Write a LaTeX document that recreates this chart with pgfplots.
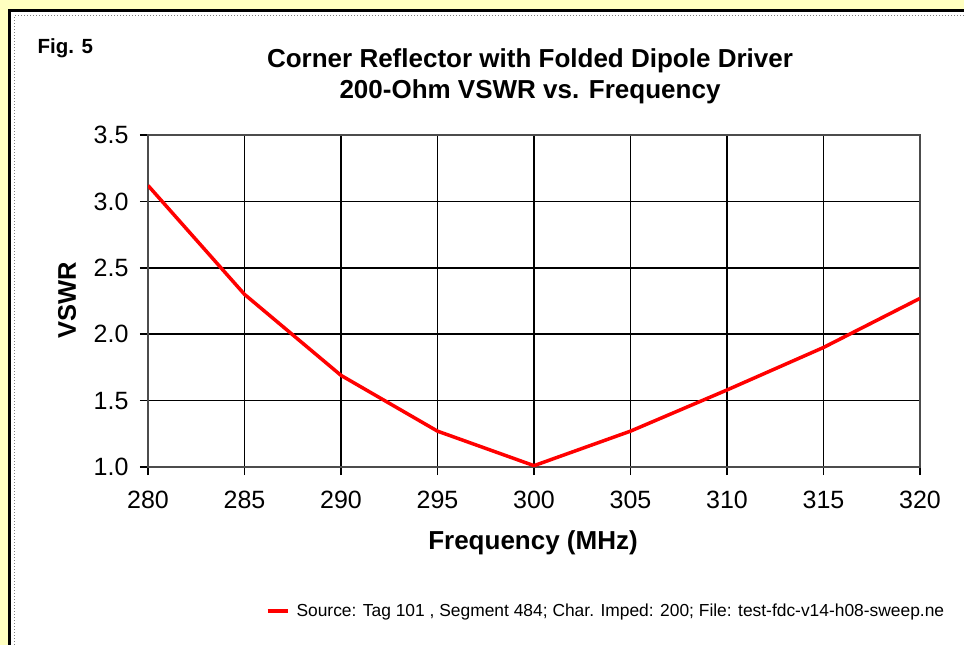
\documentclass[border=0pt]{standalone}
\usepackage{fontspec}
\setmainfont{Liberation Sans}
\usepackage{pgfplots}
\pgfplotsset{compat=1.18}
\definecolor{bgyellow}{RGB}{255,255,192}
\begin{document}
\begin{tikzpicture}[x=1pt,y=1pt]
\useasboundingbox (0,0) rectangle (964,645);
\fill[bgyellow] (0,0) rectangle (964,645);
\fill[white] (9.5,0) rectangle (964,634.5);
\draw[black,line width=3pt] (9.5,0) -- (9.5,634.5) -- (964,634.5);
\draw[gray,dotted,line width=1pt] (14.5,0) -- (14.5,629.5) -- (964,629.5);
\begin{axis}[
 at={(148pt,178pt)}, anchor=south west,
 scale only axis, width=772pt, height=332pt,
 xmin=280,xmax=320,ymin=1,ymax=3.5,
 xtick={280,285,...,320}, ytick={1,1.5,...,3.5},
 xtick pos=bottom, ytick pos=left,
 grid=major, grid style={black,line width=1.5pt},
 axis line style={black!70, line width=1.5pt},
 tick style={black, line width=1.5pt}, tick align=outside, major tick length=8pt,
 ticklabel style={font=\fontsize{25}{25}\selectfont},
 /pgf/number format/assume math mode=true,
 yticklabel style={xshift=-8pt,/pgf/number format/fixed,/pgf/number format/fixed zerofill,/pgf/number format/precision=1},
 xticklabel style={yshift=-13pt,/pgf/number format/1000 sep={}},
 legend style={at={(0.152,-0.434)}, anchor=west, draw=none, fill=none, inner sep=0pt,
   font=\fontsize{17.4}{17.4}\selectfont},
 legend cell align=left,
 legend image code/.code={\draw[#1,line width=4pt] (0pt,0pt) -- (20pt,0pt);},
]
\addplot[red, line width=3.5pt] coordinates {
(280,3.12) (285,2.30) (290,1.69) (295,1.27) (300,1.01) (305,1.27) (310,1.58) (315,1.90) (320,2.27)
};
\addlegendentry{\hspace{5pt}Source: Tag 101 , Segment 484; Char. Imped: 200; File: test-fdc-v14-h08-sweep.ne}
\end{axis}
\node[anchor=west,font=\bfseries\fontsize{20.5}{20.5}\selectfont] at (34,597) {Fig. 5};
\node[font=\bfseries\fontsize{26}{26}\selectfont] at (530,584) {Corner Reflector with Folded Dipole Driver};
\node[font=\bfseries\fontsize{26}{26}\selectfont] at (530,553) {200-Ohm VSWR vs. Frequency};
\node[font=\bfseries\fontsize{26}{26}\selectfont] at (533,102) {Frequency (MHz)};
\node[rotate=90,font=\bfseries\fontsize{25.5}{25.5}\selectfont] at (67,345) {VSWR};
\end{tikzpicture}
\end{document}
